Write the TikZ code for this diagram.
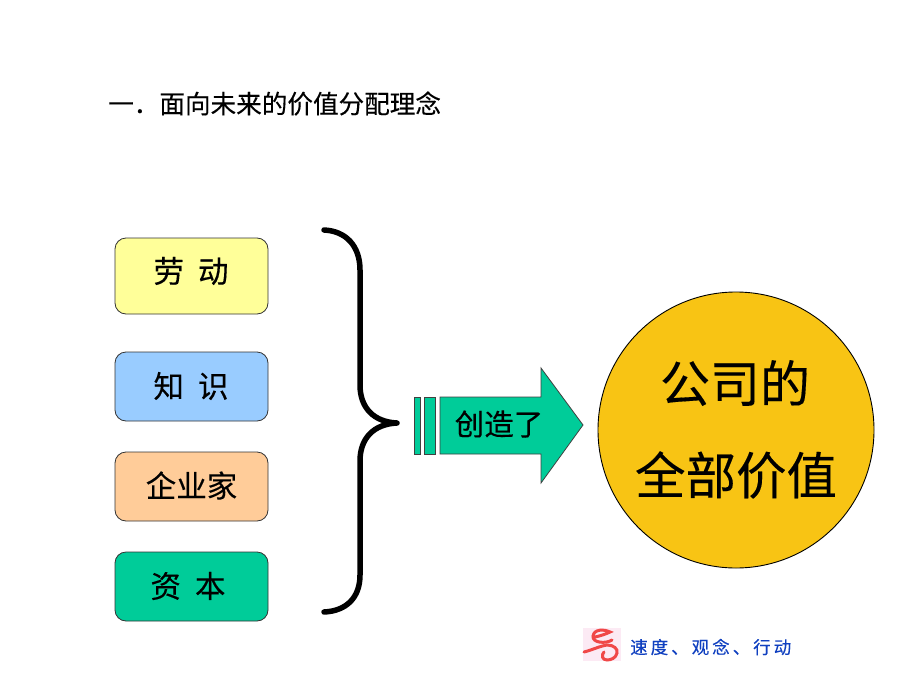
\documentclass[tikz,border=0pt]{standalone}
\usepackage{fontspec}
\setmainfont[FakeBold=0.25]{Noto Sans CJK SC}
\definecolor{boxyellow}{HTML}{FFFF99}
\definecolor{boxblue}{HTML}{99CCFF}
\definecolor{boxorange}{HTML}{FFCC99}
\definecolor{boxgreen}{HTML}{00CC99}
\definecolor{discgold}{HTML}{F8C414}
\definecolor{sloganblue}{HTML}{1040C0}
\definecolor{logored}{HTML}{F04848}
\definecolor{logopink}{HTML}{FCEAF4}
\tikzset{
  x=1pt,y=-1pt,
  factor/.style={draw=black!80,line width=0.8pt,rounded corners=11pt,minimum width=153pt,inner sep=0pt},
  arrowpart/.style={draw=black!75,line width=0.8pt,fill=boxgreen},
  caption/.style={inner sep=0pt,anchor=center},
  factorlabel/.style={caption,font=\fontsize{30.5}{31}\selectfont}
}
\begin{document}
\begin{tikzpicture}
\useasboundingbox (0,0) rectangle (920,690);
\fill[white] (0,0) rectangle (920,690);

\node[caption,anchor=west,font=\fontsize{25.6}{26}\selectfont] (title) at (108,103.5) {一．面向未来的价值分配理念};

% the four factors
\node[factor,fill=boxyellow,minimum height=76pt] (labour) at (191.5,276) {};
\node[factor,fill=boxblue,minimum height=69pt] (knowledge) at (191.5,386.5) {};
\node[factor,fill=boxorange,minimum height=69pt] (entrepreneur) at (191.5,486.5) {};
\node[factor,fill=boxgreen,minimum height=69pt] (capital) at (191.5,586.5) {};
\node[factorlabel] (labourtext) at (191,271) {劳\hspace{14pt}动};
\node[factorlabel] (knowledgetext) at (191,386) {知\hspace{14pt}识};
\node[factorlabel] (entrepreneurtext) at (191.5,485.5) {企业家};
\node[factorlabel] (capitaltext) at (188,586) {资\hspace{14pt}本};

% brace gathering the factors
\draw[line width=5.5pt,line cap=round,line join=round] (324,230)
  .. controls (346,231) and (360,246) .. (360,270) -- (360,385)
  .. controls (360,408) and (374,422) .. (397,423)
  .. controls (374,424) and (360,438) .. (360,461) -- (360,575)
  .. controls (360,598) and (346,611) .. (324,612);

% striped block arrow
\draw[arrowpart] (414,397) rectangle (420,454);
\draw[arrowpart] (424.5,397) rectangle (435,454);
\draw[arrowpart] (440,397) -- (541,397) -- (541,368) -- (583,425) -- (541,483) -- (541,454) -- (440,454) -- cycle;
\node[caption,font=\fontsize{29.5}{30}\selectfont] (created) at (499,424) {创造了};

% result disc
\node[circle,draw=black,line width=0.9pt,fill=discgold,minimum size=276pt,inner sep=0pt] (value) at (736,430) {};
\node[caption,font=\fontsize{50}{50}\selectfont] (company) at (735,383) {公司的};
\node[caption,font=\fontsize{50.5}{51}\selectfont] (whole) at (736,475) {全部价值};

% footer emblem and slogan
\fill[logopink] (583,628) rectangle (621,661);
\draw[logored,line width=3pt,line cap=round] (595,637) .. controls (600,636) and (606,634) .. (610,632)
  .. controls (604,629) and (594,629) .. (593,636)
  .. controls (592,643) and (606,644) .. (612,640);
\draw[logored,line width=3pt,line cap=round] (584,652) .. controls (592,650) and (600,646) .. (607,645)
  .. controls (614,645) and (618,649) .. (617,653) .. controls (616,658) and (611,660) .. (607,660)
  .. controls (602,660) and (601,655) .. (604,652);
\node[caption,anchor=west,text=sloganblue,font=\fontsize{17.5}{18}\selectfont] (slogan) at (630,647) {速\hspace{3pt}度\hspace{3pt}、\hspace{3pt}观\hspace{3pt}念\hspace{3pt}、\hspace{3pt}行\hspace{3pt}动};
\end{tikzpicture}
\end{document}
